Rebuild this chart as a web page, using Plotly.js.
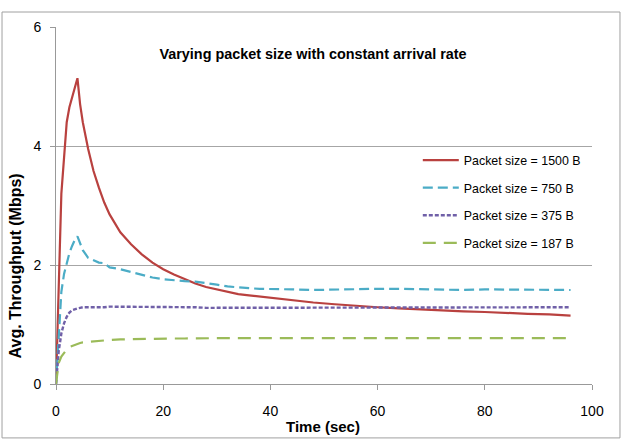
<!DOCTYPE html>
<html>
<head>
<meta charset="utf-8">
<script src="https://cdn.plot.ly/plotly-3.0.1.min.js"></script>
<style>html,body{margin:0;padding:0;background:#fff;}#chart{width:626px;height:440px;}</style>
</head>
<body>
<div id="chart"></div>
<script>
// Time (sec)
const time = [0,0.5,1,1.5,2,2.5,3,3.5,4,4.5,5,6,7,8,9,10,12,14,16,18,20,22,24,26,28,30,32,34,36,38,40,44,48,52,56,60,64,68,72,76,80,84,88,92,96];
// Avg. Throughput (Mbps)
const size1500 = [0,1.8,3.2,3.8,4.4,4.65,4.8,4.98,5.14,4.7,4.4,3.95,3.58,3.3,3.05,2.85,2.55,2.35,2.18,2.04,1.93,1.84,1.76,1.69,1.63,1.59,1.55,1.51,1.49,1.47,1.44,1.40,1.37,1.34,1.31,1.29,1.27,1.25,1.23,1.22,1.21,1.19,1.18,1.17,1.15];
const size750 = [0,0.9,1.55,1.85,2.05,2.2,2.32,2.42,2.48,2.38,2.25,2.12,2.08,2.04,2.03,1.96,1.93,1.88,1.83,1.79,1.76,1.74,1.73,1.72,1.70,1.67,1.64,1.62,1.61,1.60,1.60,1.59,1.58,1.59,1.60,1.60,1.60,1.59,1.59,1.58,1.59,1.59,1.58,1.58,1.58];
const size375 = [0,0.55,0.85,1.02,1.13,1.2,1.24,1.26,1.27,1.28,1.29,1.29,1.29,1.28,1.29,1.30,1.30,1.30,1.30,1.29,1.29,1.29,1.29,1.29,1.28,1.28,1.28,1.28,1.28,1.28,1.28,1.28,1.28,1.29,1.28,1.28,1.29,1.29,1.29,1.29,1.29,1.29,1.29,1.29,1.29];
const size187 = [0,0.35,0.46,0.53,0.58,0.62,0.64,0.66,0.68,0.69,0.70,0.71,0.72,0.73,0.735,0.74,0.75,0.755,0.76,0.76,0.76,0.765,0.765,0.77,0.77,0.77,0.77,0.77,0.77,0.77,0.77,0.77,0.77,0.77,0.77,0.77,0.77,0.77,0.77,0.77,0.77,0.77,0.77,0.77,0.77];
const seriesNames = ['Packet size = 1500 B','Packet size = 750 B','Packet size = 375 B','Packet size = 187 B'];
const xTicks = [0,20,40,60,80,100];
const yTicks = [0,2,4,6];

const sans = '"Liberation Sans", Arial, sans-serif';
const traces = [
  {y: size1500, color:'#B9413F', dash:'solid', width:2.2},
  {y: size750, color:'#4BACC6', dash:'10px,5px', width:2.2},
  {y: size375, color:'#7060A8', dash:'4px,2px', width:2.4},
  {y: size187, color:'#9BBB59', dash:'13px,8px', width:2.2}
].map((s,i)=>({
  type:'scatter', mode:'lines', x: time, y: s.y, name: seriesNames[i],
  legendgroup:'g'+i,
  line:{color:s.color, dash:s.dash, width:s.width}
}));

const layout = {
  width:626, height:440,
  margin:{l:56, r:34, t:27, b:56},
  paper_bgcolor:'#fff', plot_bgcolor:'#fff',
  font:{family:sans, size:13, color:'#000'},
  title:{text:'<b>Varying packet size with constant arrival rate</b>', x:0.5, xanchor:'center', y:0.878, yanchor:'middle', font:{family:sans, size:14.4, color:'#000'}},
  xaxis:{range:[0,100], tickvals:xTicks, ticktext:xTicks.map(String), showgrid:false, zeroline:false,
    showline:true, linecolor:'#999', linewidth:1, ticks:'outside', ticklen:5, tickcolor:'#999',
    ticklabelstandoff:9, tickfont:{family:sans, size:14}},
  yaxis:{range:[0,6], tickvals:yTicks, ticktext:yTicks.map(String), showgrid:true, gridcolor:'#A6A6A6', gridwidth:1, zeroline:false,
    showline:true, linecolor:'#999', linewidth:1, ticks:'outside', ticklen:5, tickcolor:'#999',
    ticklabelstandoff:6, tickfont:{family:sans, size:14}},
  showlegend:true,
  legend:{x:0.675, xanchor:'left', y:0.668, yanchor:'top', bgcolor:'rgba(0,0,0,0)', traceorder:'grouped', tracegroupgap:8.5,
    font:{family:sans, size:12.4}, itemwidth:36},
  annotations:[
    {text:'<b>Avg. Throughput (Mbps)</b>', xref:'paper', yref:'paper', x:-0.076, y:0.33, textangle:-90, showarrow:false,
      xanchor:'center', yanchor:'middle', font:{family:sans, size:16}},
    {text:'<b>Time (sec)</b>', xref:'paper', yref:'paper', x:0.498, y:-0.118, showarrow:false,
      xanchor:'center', yanchor:'middle', font:{family:sans, size:15}}
  ],
  shapes:[
    {type:'rect', xref:'paper', yref:'paper', x0:-0.1007, x1:1.0522, y0:-0.151, y1:1.042, line:{color:'#A0A0A0', width:1}, fillcolor:'rgba(0,0,0,0)'}
  ]
};
Plotly.newPlot('chart', traces, layout, {displayModeBar:false, staticPlot:true});
</script>
</body>
</html>
